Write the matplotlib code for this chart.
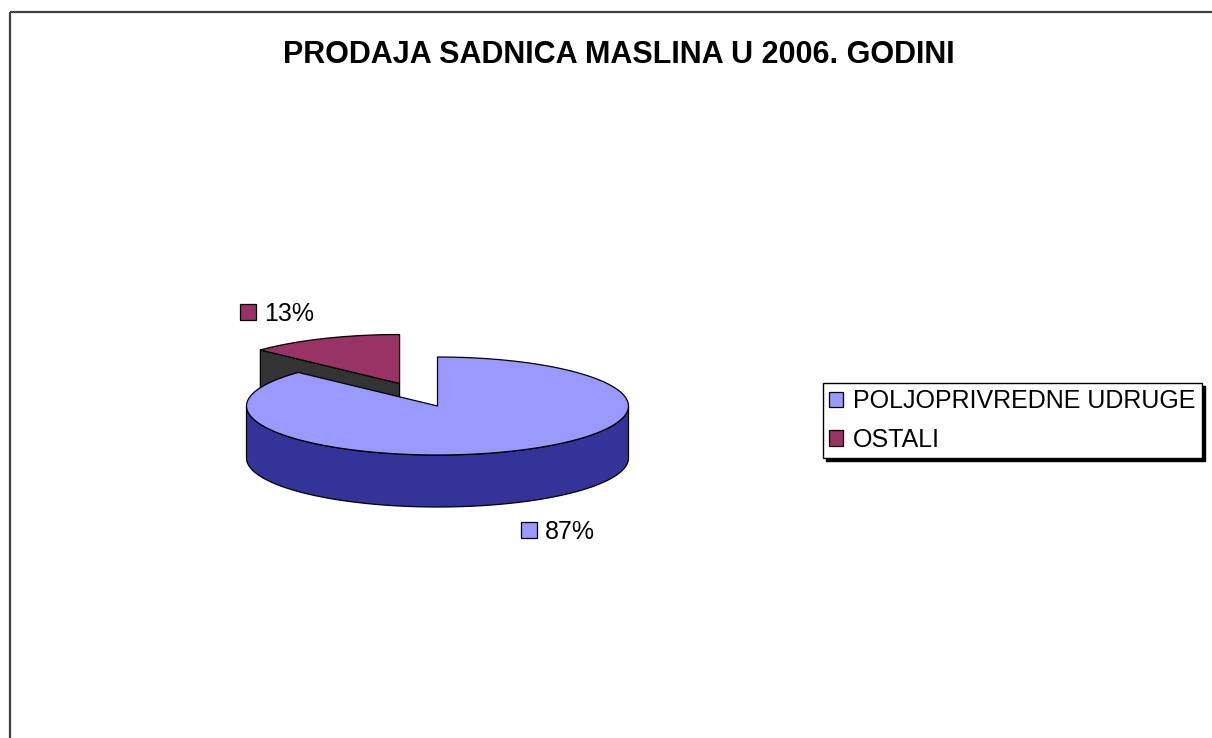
import numpy as np
import matplotlib.pyplot as plt
from matplotlib.patches import Polygon, Rectangle, Patch

# data
title = 'PRODAJA SADNICA MASLINA U 2006. GODINI'
categories = ['POLJOPRIVREDNE UDRUGE', 'OSTALI']
shares = [87, 13]
explode = [0.0, 0.5]
top_colors = ['#9999FF', '#993366']
side_colors = ['#333399', '#333333']

plt.rcParams['font.family'] = ['Liberation Sans', 'DejaVu Sans']

fig = plt.figure(figsize=(12.12, 7.38), dpi=100)
ax = fig.add_axes([0, 0, 1, 1])
ax.set_xlim(0, 1212)
ax.set_ylim(738, 0)
ax.axis('off')

# chart area border (runs off the right and bottom edges)
ax.add_patch(Rectangle((10, 12), 1400, 900, fill=False, edgecolor='#404040', lw=1.6))

ax.text(619, 63, title, ha='center', va='baseline', fontsize=22, fontweight='bold')

# 3d pie geometry (pixels)
cx, cy, rx, ry, depth = 437.5, 406, 191, 49, 52


def arc(t0, t1, ox, oy, z=0, n=120):
    th = np.radians(np.linspace(t0, t1, n))
    return np.column_stack([cx + ox + rx * np.cos(th), cy + oy - ry * np.sin(th) + z])


total = sum(shares)
cum = np.cumsum([0] + shares) / total
slices = []
for i, v in enumerate(shares):
    t1 = 90 - cum[i + 1] * 360
    t2 = 90 - cum[i] * 360
    mid = (t1 + t2) / 2
    ox = explode[i] * rx * np.cos(np.radians(mid))
    oy = -explode[i] * ry * np.sin(np.radians(mid))
    slices.append((t1, t2, mid, ox, oy))

# draw back slices first
order = sorted(range(len(shares)), key=lambda i: -np.sin(np.radians(slices[i][2])))
edge = dict(edgecolor='black', lw=0.9, joinstyle='miter')
for i in order:
    t1, t2, mid, ox, oy = slices[i]
    c0 = (cx + ox, cy + oy)
    # outer wall, front half only
    for k in range(-2, 2):
        lo, hi = max(t1, 180 + 360 * k), min(t2, 360 + 360 * k)
        if hi > lo:
            pts = np.vstack([arc(lo, hi, ox, oy), arc(lo, hi, ox, oy, depth)[::-1]])
            ax.add_patch(Polygon(pts, closed=True, facecolor=side_colors[i], **edge))
    # cut faces facing the viewer
    for phi, visible in ((t1, np.cos(np.radians(t1)) > 1e-6), (t2, np.cos(np.radians(t2)) < -1e-6)):
        if visible:
            e = arc(phi, phi, ox, oy, n=1)[0]
            pts = [c0, e, (e[0], e[1] + depth), (c0[0], c0[1] + depth)]
            ax.add_patch(Polygon(pts, closed=True, facecolor=side_colors[i], **edge))
    # top
    pts = np.vstack([[c0], arc(t1, t2, ox, oy)])
    ax.add_patch(Polygon(pts, closed=True, facecolor=top_colors[i], **edge))

# percentage labels with colour keys
for i, v in enumerate(shares):
    t1, t2, mid, ox, oy = slices[i]
    s = np.sin(np.radians(mid))
    lx = cx + ox + 1.6 * rx * np.cos(np.radians(mid))
    ly = cy + oy - 1.6 * ry * s + (depth if s < 0 else 0)
    x0 = lx - 38
    ax.add_patch(Rectangle((x0, ly - 8), 16, 16, facecolor=top_colors[i], edgecolor='black', lw=0.9))
    ax.text(x0 + 24, ly + 9, f'{v / total * 100:.0f}%', ha='left', va='baseline', fontsize=18)

handles = [Patch(facecolor=c, edgecolor='black', lw=0.9) for c in top_colors]
leg = ax.legend(handles, categories, loc='upper left',
                bbox_to_anchor=(823 / 1212, 1 - 383 / 738), bbox_transform=fig.transFigure,
                fontsize=18, frameon=True, fancybox=False, edgecolor='black',
                shadow={'color': 'black', 'alpha': 1},
                handlelength=0.56, handleheight=0.56, handletextpad=0.4,
                borderpad=0.25, labelspacing=0.58, borderaxespad=0)
leg.get_frame().set_linewidth(1.0)

fig.savefig('out.png', dpi=100, facecolor='white')
